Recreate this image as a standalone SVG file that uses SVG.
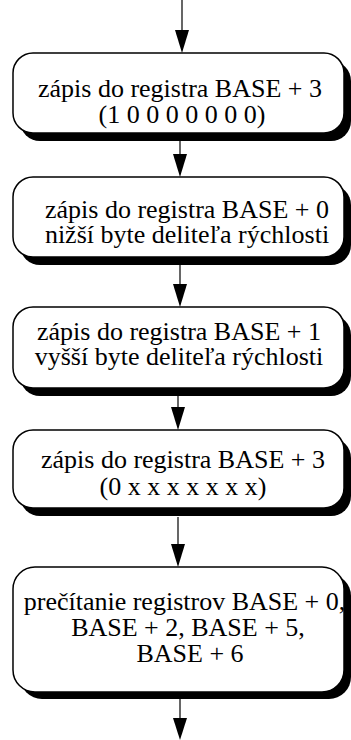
<svg xmlns="http://www.w3.org/2000/svg" width="351" height="740" viewBox="0 0 351 740">
<defs>
<style>
.box{fill:#fff;stroke:#000;stroke-width:1.5}
.sh{fill:#000}
.t{font-family:"Liberation Serif","Times New Roman",serif;font-size:26px;fill:#000;text-anchor:middle}
.ln{stroke:#000;stroke-width:1.2;fill:none}
.hd{fill:#000}
</style>
</defs>
<rect width="351" height="740" fill="#fff"/>
<g id="connectors">
<path class="ln" d="M182,0 V30"/><path class="hd" d="M175,30 H189 L182,53 z"/>
<path class="ln" d="M180,141 V154"/><path class="hd" d="M173,154 H187 L180,177 z"/>
<path class="ln" d="M180,265 V284"/><path class="hd" d="M173,284 H187 L180,307 z"/>
<path class="ln" d="M178,395 V407"/><path class="hd" d="M171,407 H185 L178,430 z"/>
<path class="ln" d="M178,517 V544"/><path class="hd" d="M171,544 H185 L178,567 z"/>
<path class="ln" d="M180,699 V718"/><path class="hd" d="M173,718 H187 L180,740 z"/>
</g>
<g id="n1">
<rect class="sh" x="20" y="61" width="331" height="80" rx="20"/>
<rect class="box" x="13" y="53" width="331" height="80" rx="20"/>
<text class="t" x="180" y="97">zápis do registra BASE + 3</text>
<text class="t" x="182" y="123">(1 0 0 0 0 0 0 0)</text>
</g>
<g id="n2">
<rect class="sh" x="20" y="185" width="331" height="80" rx="20"/>
<rect class="box" x="13" y="177" width="331" height="80" rx="20"/>
<text class="t" x="187" y="218">zápis do registra BASE + 0</text>
<text class="t" x="187" y="243">nižší byte deliteľa rýchlosti</text>
</g>
<g id="n3">
<rect class="sh" x="20" y="315" width="331" height="81" rx="20"/>
<rect class="box" x="13" y="307" width="331" height="81" rx="20"/>
<text class="t" x="179" y="340">zápis do registra BASE + 1</text>
<text class="t" x="179" y="365">vyšší byte deliteľa rýchlosti</text>
</g>
<g id="n4">
<rect class="sh" x="20" y="438" width="331" height="78" rx="20"/>
<rect class="box" x="13" y="430" width="331" height="78" rx="20"/>
<text class="t" x="183" y="468">zápis do registra BASE + 3</text>
<text class="t" x="183" y="495">(0 x x x x x x x)</text>
</g>
<g id="n5">
<rect class="sh" x="20" y="574" width="331" height="125" rx="22"/>
<rect class="box" x="13" y="567" width="331" height="125" rx="22"/>
<text class="t" x="184.5" y="610">prečítanie registrov BASE + 0,</text>
<text class="t" x="188" y="636">BASE + 2, BASE + 5,</text>
<text class="t" x="190" y="662">BASE + 6</text>
</g>
</svg>
